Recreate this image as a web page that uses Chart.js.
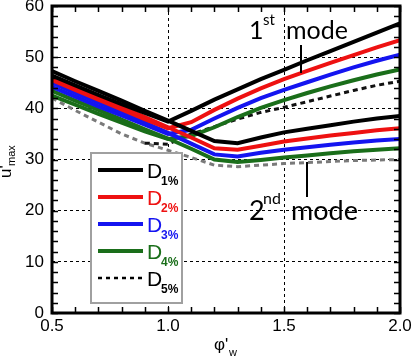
<!DOCTYPE html>
<html>
<head>
<meta charset="utf-8">
<script src="https://cdn.jsdelivr.net/npm/chart.js@4.4.0/dist/chart.umd.min.js"></script>
<style>
  html, body { margin: 0; padding: 0; background: #fff; }
  #wrap { width: 413px; height: 357px; }
</style>
</head>
<body>
<div id="wrap"><canvas id="modeChart" width="413" height="357"></canvas></div>
<script>
// phi'_w positions
var phi = [0.5, 0.6, 0.7, 0.8, 0.9, 1.0, 1.1, 1.2, 1.3, 1.4, 1.5, 1.6, 1.7, 1.8, 1.9, 2.0];

// 1st mode (rises on the right) and 2nd mode (lower branch) for each D
var d1Mode1 = [46.4, 44.5, 42.6, 40.8, 39.1, 37.4, 39.5, 41.7, 43.7, 45.7, 47.5, 49.4, 51.2, 53.0, 54.8, 56.6];
var d1Mode2 = [47.3, 45.3, 43.4, 41.5, 39.5, 37.6, 35.6, 33.6, 33.2, 34.3, 35.3, 36.0, 36.7, 37.4, 38.0, 38.5];
var d2Mode1 = [45.5, 43.6, 41.7, 39.8, 37.9, 36.1, 37.3, 39.7, 41.9, 43.9, 45.7, 47.3, 48.9, 50.4, 51.9, 53.3];
var d2Mode2 = [46.2, 44.2, 42.3, 40.3, 38.3, 36.3, 34.3, 32.2, 31.9, 32.7, 33.5, 34.1, 34.7, 35.2, 35.7, 36.1];
var d3Mode1 = [44.2, 42.3, 40.4, 38.6, 36.8, 35.0, 35.8, 38.0, 40.1, 42.0, 43.6, 45.1, 46.6, 48.0, 49.3, 50.5];
var d3Mode2 = [45.0, 43.0, 41.1, 39.2, 37.2, 35.2, 33.1, 31.0, 30.6, 31.3, 31.9, 32.4, 32.9, 33.3, 33.7, 34.0];
var d4Mode1 = [42.5, 40.7, 38.9, 37.2, 35.5, 34.0, 34.6, 36.3, 38.3, 40.1, 41.6, 43.0, 44.3, 45.5, 46.6, 47.6];
var d4Mode2 = [43.4, 41.5, 39.7, 37.8, 35.9, 34.1, 32.1, 30.0, 29.5, 29.9, 30.4, 30.8, 31.2, 31.6, 31.9, 32.2];
var d5Mode1 = [null, null, null, null, 33.2, 33.0, 35.0, 36.4, 37.9, 39.2, 40.2, 41.3, 42.4, 43.5, 44.5, 45.3];
var d5Mode2 = [42.0, 39.6, 37.3, 35.0, 33.2, 31.8, 30.4, 28.9, 28.6, 28.9, 29.2, 29.4, 29.6, 29.8, 29.9, 30.0];

var legendSubs = ['1%', '2%', '3%', '4%', '5%'];
var legendColors = ['#000000', '#ee1111', '#1414f0', '#1a6e1a', '#000000'];
var yTicks = [0, 10, 20, 30, 40, 50, 60];
var xTicks = [0.5, 1.0, 1.5, 2.0];

function pts(arr) {
    return phi.map(function (x, i) { return { x: x, y: arr[i] }; });
}

function solid(label, arr, color) {
    return { label: label, data: pts(arr), borderColor: color, borderWidth: 4,
             pointRadius: 0, tension: 0, fill: false };
}

function dotted(label, arr, color) {
    return { label: label, data: pts(arr), borderColor: color, borderWidth: 3,
             borderDash: [5, 4], pointRadius: 0, tension: 0, fill: false, spanGaps: false };
}

var datasets = [
    solid('D1% 2nd', d1Mode2, legendColors[0]),
    solid('D1% 1st', d1Mode1, legendColors[0]),
    solid('D2% 2nd', d2Mode2, legendColors[1]),
    solid('D2% 1st', d2Mode1, legendColors[1]),
    solid('D3% 2nd', d3Mode2, legendColors[2]),
    solid('D3% 1st', d3Mode1, legendColors[2]),
    solid('D4% 2nd', d4Mode2, legendColors[3]),
    solid('D4% 1st', d4Mode1, legendColors[3]),
    dotted('D5% 1st', d5Mode1, '#111111'),
    dotted('D5% 2nd', d5Mode2, '#7a7a7a')
];

var FONT = "'Liberation Sans', Arial, sans-serif";
var NOTE_FONT = "Lato, 'Open Sans', sans-serif";

// frame, inner ticks, legend box, mode notes, axis titles
var decorPlugin = {
    id: 'decor',
    afterDatasetsDraw: function (chart) {
        var ctx = chart.ctx;
        var a = chart.chartArea;
        var xs = chart.scales.x, ys = chart.scales.y;
        var i, p;
        ctx.save();

        // inner ticks
        ctx.strokeStyle = '#000';
        ctx.lineWidth = 1.5;
        ctx.beginPath();
        for (i = 0; i <= 30; i++) {
            p = Math.round(ys.getPixelForValue(i * 2)) + 0.5;
            ctx.moveTo(a.left, p); ctx.lineTo(a.left + 6, p);
            ctx.moveTo(a.right, p); ctx.lineTo(a.right - 6, p);
        }
        for (i = 5; i <= 20; i++) {
            p = Math.round(xs.getPixelForValue(i / 10)) + 0.5;
            ctx.moveTo(p, a.bottom); ctx.lineTo(p, a.bottom - 6);
            ctx.moveTo(p, a.top); ctx.lineTo(p, a.top + 6);
        }
        ctx.stroke();

        // frame
        ctx.lineWidth = 3;
        ctx.strokeRect(a.left, a.top, a.right - a.left, a.bottom - a.top);

        // legend
        var lx = 91, ly = 153, lw = 91, lh = 150;
        ctx.fillStyle = '#fff';
        ctx.fillRect(lx, ly, lw, lh);
        ctx.strokeStyle = '#a0a0a0';
        ctx.lineWidth = 2;
        ctx.strokeRect(lx, ly, lw, lh);
        for (i = 0; i < legendSubs.length; i++) {
            var yy = 170 + i * 27;
            ctx.beginPath();
            ctx.strokeStyle = legendColors[i];
            if (i === 4) {
                ctx.lineWidth = 2.5;
                ctx.setLineDash([4, 4]);
            } else {
                ctx.lineWidth = 4;
                ctx.setLineDash([]);
            }
            ctx.moveTo(98, yy); ctx.lineTo(143, yy);
            ctx.stroke();
            ctx.setLineDash([]);
            ctx.fillStyle = legendColors[i];
            ctx.textBaseline = 'alphabetic';
            ctx.textAlign = 'left';
            ctx.font = '21px ' + FONT;
            ctx.fillText('D', 147, yy + 8);
            ctx.font = 'bold 12px ' + FONT;
            ctx.fillText(legendSubs[i], 161, yy + 15);
        }

        // mode notes
        ctx.fillStyle = '#000';
        ctx.strokeStyle = '#000';
        ctx.lineWidth = 2;
        ctx.font = '25px ' + NOTE_FONT;
        ctx.fillText('1', 249, 39);
        ctx.font = '15px ' + NOTE_FONT;
        ctx.fillText('st', 263, 25);
        ctx.font = '25px ' + NOTE_FONT;
        ctx.fillText('mode', 286, 39);
        ctx.beginPath();
        ctx.moveTo(301, 45); ctx.lineTo(301, 73);
        ctx.stroke();

        ctx.font = '27px ' + NOTE_FONT;
        ctx.fillText('2', 249, 220);
        ctx.font = '16px ' + NOTE_FONT;
        ctx.fillText('nd', 263, 204);
        ctx.font = '27px ' + NOTE_FONT;
        ctx.fillText('mode', 291, 220);
        ctx.beginPath();
        ctx.moveTo(307, 162); ctx.lineTo(307, 197);
        ctx.stroke();

        // x title
        ctx.font = '17px ' + FONT;
        ctx.fillText('\u03c6\'', 214, 350);
        ctx.font = '11px ' + FONT;
        ctx.fillText('w', 229, 356);

        // y title
        ctx.translate(11, 178);
        ctx.rotate(-Math.PI / 2);
        ctx.font = '17px ' + FONT;
        ctx.fillText('u\'', 0, 0);
        ctx.font = '11px ' + FONT;
        ctx.fillText('max', 12, 4);

        ctx.restore();
    }
};

function gridColor(list) {
    return function (c) {
        var v = c.tick ? c.tick.value : null;
        return list.indexOf(v) >= 0 ? '#000' : 'rgba(0,0,0,0)';
    };
}

new Chart(document.getElementById('modeChart').getContext('2d'), {
    type: 'line',
    data: { datasets: datasets },
    options: {
        responsive: false,
        animation: false,
        devicePixelRatio: 1,
        layout: { padding: { top: 6, right: 13, left: 0, bottom: 0 } },
        plugins: { legend: { display: false }, tooltip: { enabled: false } },
        scales: {
            x: {
                type: 'linear', min: 0.5, max: 2.0,
                afterBuildTicks: function (s) { s.ticks = xTicks.map(function (v) { return { value: v }; }); },
                ticks: { color: '#000', font: { family: FONT, size: 17 }, padding: 3, maxRotation: 0,
                         autoSkip: false, callback: function (v) { return Number(v).toFixed(1); } },
                grid: { color: gridColor([1.0, 1.5]), lineWidth: 1, drawTicks: false, borderDash: [3, 3] },
                border: { display: false, dash: [3, 3] },
                afterFit: function (s) { s.height = 44; s.paddingLeft = 0; s.paddingRight = 0; }
            },
            y: {
                min: 0, max: 60,
                afterBuildTicks: function (s) { s.ticks = yTicks.map(function (v) { return { value: v }; }); },
                ticks: { color: '#000', font: { family: FONT, size: 17 }, padding: 8 },
                grid: { color: gridColor([10, 20, 30, 40, 50]), lineWidth: 1, drawTicks: false, borderDash: [3, 3] },
                border: { display: false, dash: [3, 3] },
                afterFit: function (s) { s.width = 52; s.paddingTop = 0; s.paddingBottom = 0; }
            }
        }
    },
    plugins: [decorPlugin]
});
</script>
</body>
</html>
